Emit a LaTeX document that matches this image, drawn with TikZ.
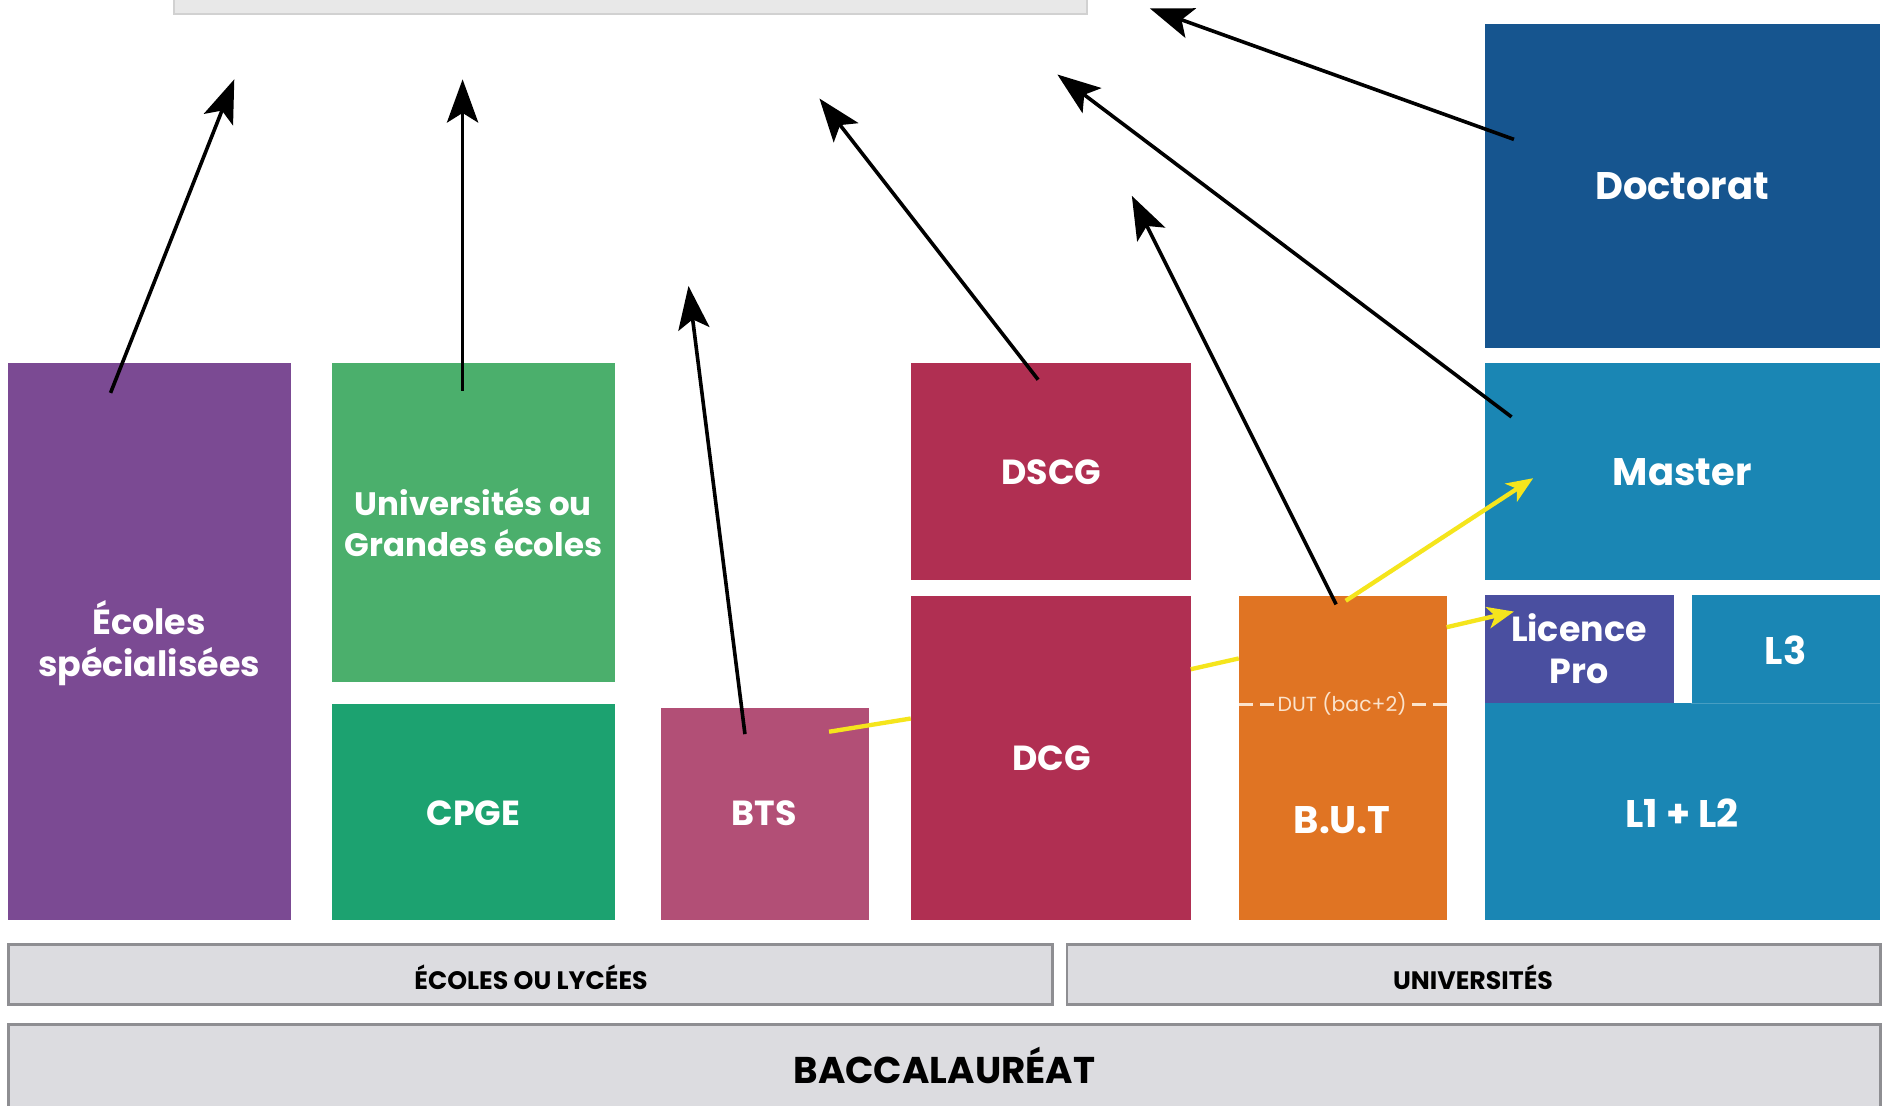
\documentclass[tikz,border=0pt]{standalone}
\usepackage{fontspec}
\setmainfont{Poppins}
\usetikzlibrary{arrows.meta,fit}
\definecolor{cDoc}{HTML}{16558F}
\definecolor{cUni}{HTML}{1A86B4}
\definecolor{cLp}{HTML}{4A4FA0}
\definecolor{cEco}{HTML}{7B4A93}
\definecolor{cUge}{HTML}{4BAF6C}
\definecolor{cCpge}{HTML}{1CA270}
\definecolor{cBts}{HTML}{B24F76}
\definecolor{cDcg}{HTML}{B02F52}
\definecolor{cBut}{HTML}{E07423}
\definecolor{cBar}{HTML}{DCDCE0}
\definecolor{cBarEdge}{HTML}{8E8E92}
\definecolor{cTop}{HTML}{E8E8E8}
\definecolor{cYel}{HTML}{F5E51C}
\definecolor{cDut}{HTML}{FBE3CC}
\begin{document}
\begin{tikzpicture}[x=0.5pt,y=-0.5pt,
  box/.style={rectangle, inner sep=0pt, draw=none},
  lab/.style={inner sep=0pt, text=white, align=center,
    font=\bfseries\fontsize{14.5}{17.5}\selectfont},
  biglab/.style={lab, font=\bfseries\fontsize{16}{18.5}\selectfont},
  bar/.style={rectangle, inner sep=0pt, fill=cBar, draw=cBarEdge, line width=1.2pt},
  barlab/.style={inner sep=0pt, text=black, font=\bfseries\fontsize{10.5}{12}\selectfont},
  blackarrow/.style={line width=1.5pt, black, -{Stealth[length=18pt,width=13pt,inset=4pt]}},
  yelline/.style={line width=1.8pt, cYel},
  yelarrow/.style={yelline, -{Stealth[length=11pt,width=9pt,inset=3pt]}}]
\useasboundingbox (0,0) rectangle (1568,920);
\fill[white] (0,0) rectangle (1568,920);

% top bar (cut off)
\node[rectangle, inner sep=0pt, fill=cTop, draw=black!18, line width=0.8pt,
  fit={(145,-20) (905,12)}] (topbar) {};

% boxes
\node[box, fill=cDoc, fit={(1236,20) (1565,290)}] (doctorat) {};
\node[box, fill=cUni, fit={(1236,302) (1565,483)}] (master) {};
\node[box, fill=cLp, fit={(1236,495) (1393,585)}] (lpro) {};
\node[box, fill=cUni, fit={(1408,495) (1565,585)}] (lthree) {};
\node[box, fill=cUni, fit={(1236,585) (1565,766)}] (lonetwo) {};
\draw[white, opacity=0.2, line width=0.6pt] (lthree.south west) -- (lthree.south east);
\node[box, fill=cEco, fit={(7,302) (242,766)}] (ecoles) {};
\node[box, fill=cUge, fit={(276,302) (512,568)}] (uge) {};
\node[box, fill=cCpge, fit={(276,586) (512,766)}] (cpge) {};
\node[box, fill=cBts, fit={(550,589) (723,766)}] (bts) {};
\node[box, fill=cDcg, fit={(758,302) (991,483)}] (dscg) {};
\node[box, fill=cDcg, fit={(758,496) (991,766)}] (dcg) {};
\node[box, fill=cBut, fit={(1031,496) (1204,766)}] (but) {};

% labels
\node[biglab] (tdoc) at (1400,155) {Doctorat};
\node[biglab] (tmaster) at (1400,393) {Master};
\node[lab] (tlpro) at (1314,540) {Licence\\Pro};
\node[biglab] (tl3) at (1486,541) {L3};
\node[biglab] (tl12) at (1400,677) {L1 + L2};
\node[lab] (tecoles) at (124,535) {Écoles\\spécialisées};
\node[lab, font=\bfseries\fontsize{13.5}{17}\selectfont] (tuge) at (394,435) {Universités ou\\Grandes écoles};
\node[lab] (tcpge) at (394,677) {CPGE};
\node[lab] (tbts) at (636,677) {BTS};
\node[lab] (tdscg) at (875,393) {DSCG};
\node[lab] (tdcg) at (875,631) {DCG};
\node[biglab] (tbut) at (1117,683) {B.U.T};

\coordinate (dutw) at (1031,586);
\coordinate (dute) at (1204,586);
\draw[cDut, line width=1.2pt, dash pattern=on 6pt off 3pt] (dutw) -- (dute);
\node[fill=cBut, inner sep=1.5pt, text=cDut, font=\fontsize{8.5}{10}\selectfont] (dut) at (1117,586) {DUT (bac+2)};

% bottom bars
\node[bar, fit={(7,786) (876,836)}] (lycees) {};
\node[bar, fit={(888,786) (1565,836)}] (univ) {};
\node[bar, fit={(7,853) (1565,925)}] (bac) {};
\node[barlab] (tlycees) at (442,813) {ÉCOLES OU LYCÉES};
\node[barlab] (tuniv) at (1226,813) {UNIVERSITÉS};
\node[barlab, font=\bfseries\fontsize{15.5}{18}\selectfont] (tbac) at (786,887) {BACCALAURÉAT};

% arrow end points
\coordinate (s1) at (92,327);   \coordinate (e1) at (195,66);
\coordinate (s2) at (385,325);  \coordinate (e2) at (385,66);
\coordinate (s3) at (620,611);  \coordinate (e3) at (573,238);
\coordinate (s4) at (864,316);  \coordinate (e4) at (682,82);
\coordinate (s5) at (1112,503); \coordinate (e5) at (942,163);
\coordinate (s6) at (1258,347); \coordinate (e6) at (880,62);
\coordinate (s7) at (1260,116); \coordinate (e7) at (957,7);

% yellow connectors
\coordinate (y1s) at (690,609); \coordinate (y1e) at (758,598);
\coordinate (y2s) at (991,557); \coordinate (y2e) at (1031,548);
\coordinate (y3s) at (1204,522); \coordinate (y3e) at (1260,509);
\coordinate (y4s) at (1120,500); \coordinate (y4e) at (1276,398);
\draw[yelline] (y1s) -- (y1e);
\draw[yelline] (y2s) -- (y2e);
\draw[yelarrow] (y3s) -- (y3e);
\draw[yelarrow] (y4s) -- (y4e);

% black arrows
\draw[blackarrow] (s1) -- (e1);
\draw[blackarrow] (s2) -- (e2);
\draw[blackarrow] (s3) -- (e3);
\draw[blackarrow] (s4) -- (e4);
\draw[blackarrow] (s5) -- (e5);
\draw[blackarrow] (s6) -- (e6);
\draw[blackarrow] (s7) -- (e7);
\end{tikzpicture}
\end{document}
